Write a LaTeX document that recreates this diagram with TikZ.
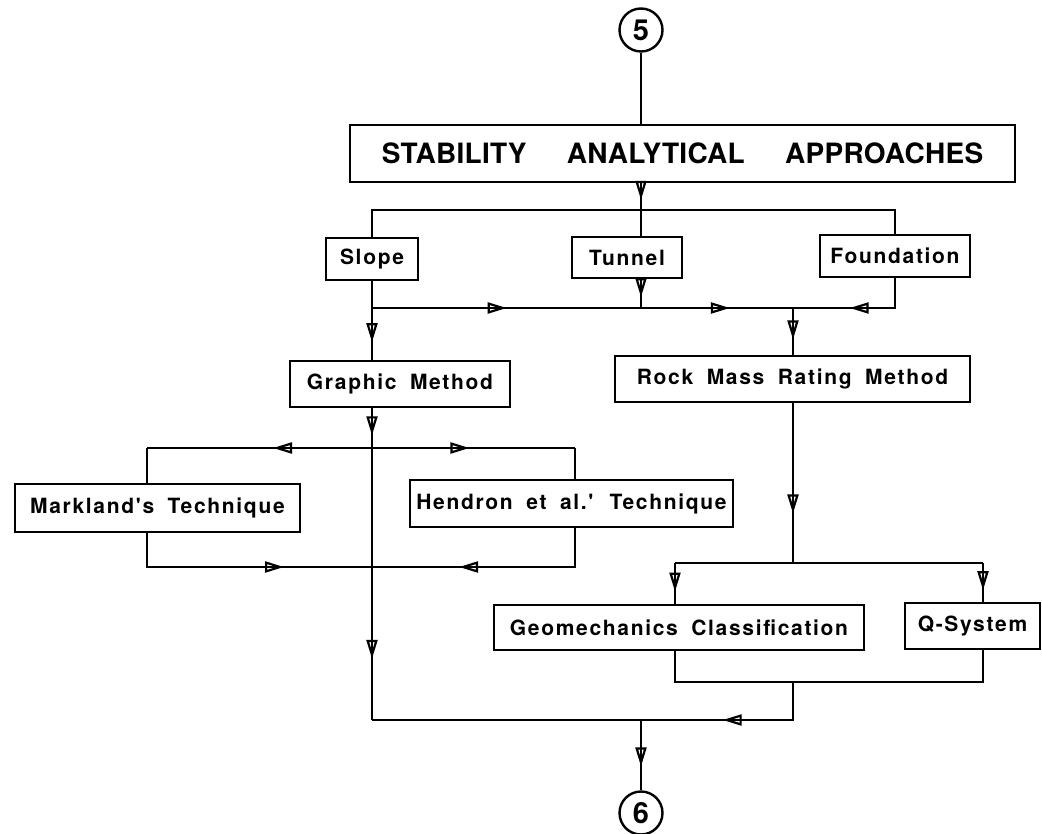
\documentclass[tikz,border=0pt]{standalone}
\usepackage{fontspec}
\setmainfont{TeX Gyre Heros}
\newfontfamily\lblfont[LetterSpace=8,WordSpace=1.8]{TeX Gyre Heros}
\newfontfamily\ttlfont[LetterSpace=1,WordSpace=5]{TeX Gyre Heros}
\usetikzlibrary{arrows.meta,decorations.markings,calc}
\tikzset{
  box/.style={draw, line width=2.4pt, rectangle, inner sep=0pt,
    font={\lblfont\bfseries\fontsize{21}{25}\selectfont}},
  ttlbox/.style={draw, line width=2.4pt, rectangle, inner sep=0pt,
    font={\ttlfont\bfseries\fontsize{28}{32}\selectfont}},
  term/.style={draw, circle, line width=2.4pt, inner sep=0pt, minimum size=43pt,
    font={\bfseries\fontsize{29}{33}\selectfont}},
  conn/.style={line width=2.4pt},
  tipA/.tip={Triangle[open, length=19pt, width=11pt, line width=2.2pt]},
  arr/.style={postaction={decorate}, decoration={markings, mark=at position #1 with {\arrow{tipA}}}},
  arrr/.style 2 args={postaction={decorate}, decoration={markings,
      mark=at position #1 with {\arrow{tipA}},
      mark=at position #2 with {\arrow{tipA}}}},
}
\begin{document}
\begin{tikzpicture}[x=1pt,y=-1pt]
\useasboundingbox[fill=white] (0,0) rectangle (1042,834);

% nodes
\node[term] (c5) at (641,30) {5};
\node[ttlbox, minimum width=665pt, minimum height=57pt] (title) at (682.5,153.5) {STABILITY ANALYTICAL APPROACHES};
\node[box, minimum width=92pt, minimum height=42pt] (slope) at (372,259) {Slope};
\node[box, minimum width=110pt, minimum height=41pt] (tunnel) at (627,257.5) {Tunnel};
\node[box, minimum width=150pt, minimum height=42pt] (found) at (895,256) {Foundation};
\node[box, minimum width=220pt, minimum height=46pt] (graphic) at (400,384) {Graphic Method};
\node[box, minimum width=355pt, minimum height=46pt] (rmr) at (792.5,379) {Rock Mass Rating Method};
\node[box, minimum width=285pt, minimum height=48pt] (mark) at (157.5,508) {Markland's Technique};
\node[box, minimum width=323pt, minimum height=47pt] (hend) at (571.5,503.5) {Hendron et al.' Technique};
\node[box, minimum width=370pt, minimum height=45pt] (geo) at (679,627.5) {Geomechanics Classification};
\node[box, minimum width=135pt, minimum height=46pt] (qsys) at (972.5,626) {Q-System};
\node[term] (c6) at (641,813) {6};

% junction coordinates
\coordinate (j1) at (641,210);
\coordinate (j2a) at (372,308);
\coordinate (j2t) at (641,308);
\coordinate (j2m) at (793,308);
\coordinate (j2f) at (895,308);
\coordinate (j3) at (372,448);
\coordinate (mk) at (147,448);
\coordinate (hk) at (575,448);
\coordinate (mb) at (147,567);
\coordinate (hb) at (575,567);
\coordinate (j4) at (372,567);
\coordinate (j7a) at (372,720);
\coordinate (j7) at (641,720);
\coordinate (j5) at (793,563);
\coordinate (gk) at (675,563);
\coordinate (qk) at (983,563);
\coordinate (gb) at (675,682);
\coordinate (qb) at (983,682);
\coordinate (j6) at (793,682);
\coordinate (j6b) at (793,720);

% connectors
\draw[conn] (c5) -- (title.north -| c5);
\draw[conn, arr=0.62] (title.south -| j1) -- (j1);
\draw[conn] (slope.north) |- (j1);
\draw[conn] (j1) -- (tunnel.north -| j1);
\draw[conn] (j1) -| (found.north);

\draw[conn] (slope.south) -- (j2a);
\draw[conn, arr=0.66] (j2a) -- (graphic.north -| j2a);
\draw[conn, arrr={0.32}{0.85}] (j2a) -- (j2m);
\draw[conn, arr=0.62] (tunnel.south -| j1) -- (j2t);
\draw[conn, arr=0.57] (found.south) -- (j2f) -- (j2m);
\draw[conn, arr=0.67] (j2m) -- (rmr.north -| j2m);

\draw[conn, arr=0.68] (graphic.south -| j3) -- (j3);
\draw[conn, arr=0.44] (j3) -- (mk);
\draw[conn] (mk) -- (mark.north -| mk);
\draw[conn, arr=0.48] (j3) -- (hk);
\draw[conn] (hk) -- (hend.north -| hk);
\draw[conn, arr=0.66] (mark.south -| mk) -- (mb) -- (j4);
\draw[conn, arr=0.64] (hend.south -| hk) -- (hb) -- (j4);
\draw[conn] (j3) -- (j4);
\draw[conn, arr=0.6] (j4) -- (j7a);
\draw[conn] (j7a) -- (j7);

\draw[conn, arr=0.69] (rmr.south -| j5) -- (j5);
\draw[conn] (gk) -- (qk);
\draw[conn, arr=0.7] (gk) -- (geo.north -| gk);
\draw[conn, arr=0.7] (qk) -- (qsys.north -| qk);
\draw[conn] (geo.south -| gk) -- (gb) -- (qb) -- (qsys.south -| qb);
\draw[conn, arr=0.57] (j6) -- (j6b) -- (j7);
\draw[conn, arr=0.66] (j7) -- (c6);
\end{tikzpicture}
\end{document}
